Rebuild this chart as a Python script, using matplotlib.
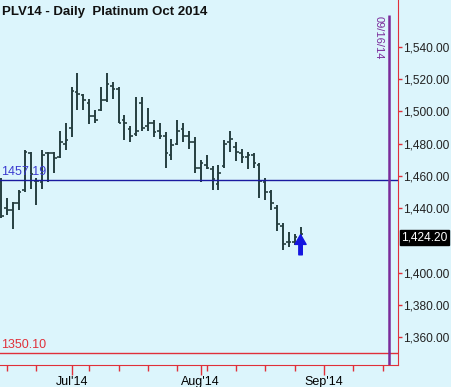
import numpy as np
import pandas as pd
import matplotlib
matplotlib.use('Agg')
import matplotlib.pyplot as plt
import matplotlib.transforms as mtransforms

# Daily OHLC for PLV14 (Jun 13 - Aug 26 2014)
opens = [1457, 1440, 1439, 1443, 1451, 1474, 1457, 1456, 1474, 1474, 1472, 1480,
         1490, 1512, 1510, 1505, 1497, 1501, 1507, 1516, 1514, 1495, 1489, 1486,
         1505, 1491, 1493, 1488, 1485, 1473, 1480, 1489, 1485, 1481, 1465, 1467,
         1464, 1455, 1466, 1481, 1478, 1474, 1472, 1473, 1467, 1456, 1450, 1440,
         1429, 1419, 1419, 1421]
highs = [1459, 1446, 1444, 1451, 1476, 1475, 1459, 1476, 1475, 1475, 1488, 1493,
         1515, 1524, 1511, 1508, 1501, 1515, 1524, 1518, 1515, 1498, 1491, 1509,
         1509, 1502, 1495, 1493, 1487, 1483, 1495, 1493, 1488, 1484, 1470, 1473,
         1466, 1467, 1482, 1488, 1481, 1477, 1475, 1474, 1468, 1459, 1451, 1442,
         1431, 1425, 1424, 1428]
lows = [1434, 1436, 1427, 1439, 1450, 1452, 1442, 1452, 1456, 1462, 1471, 1476,
        1484, 1501, 1501, 1492, 1493, 1500, 1506, 1508, 1493, 1482, 1481, 1485,
        1488, 1488, 1484, 1483, 1465, 1470, 1479, 1481, 1477, 1462, 1456, 1464,
        1451, 1451, 1465, 1475, 1469, 1468, 1464, 1465, 1446, 1445, 1439, 1426,
        1414, 1416, 1417, 1420]
closes = [1435, 1439, 1443, 1450, 1475, 1461, 1457, 1473, 1474, 1471, 1481, 1482,
          1513, 1511, 1507, 1497, 1495, 1507, 1517, 1514, 1493, 1493, 1485, 1488,
          1490, 1493, 1487, 1485, 1474, 1479, 1488, 1485, 1481, 1465, 1468, 1465,
          1458, 1462, 1480, 1483, 1475, 1472, 1473, 1468, 1457, 1450, 1443, 1430,
          1418, 1419, 1422, 1424.2]

# trading day slots (Jul 4 closed), running out to the 09/16/14 marker
dates = pd.bdate_range('2014-06-13', '2014-09-16').drop(pd.Timestamp('2014-07-04'))
month_labels = ["Jul'14", "Aug'14", "Sep'14"]
# 1,420 sits under the last price box, so it gets no label
yticks = [1360, 1380, 1400, 1440, 1460, 1480, 1500, 1520, 1540]

support = 1457.19
bottom_line = 1350.10
last_price = 1424.20
marker_date = '09/16/14'

BG = '#dcf5fc'
BAR = '#263f40'
RED = '#e0303a'

plt.rcParams['font.family'] = ['Liberation Sans', 'DejaVu Sans']

fig = plt.figure(figsize=(4.52, 3.87), dpi=100, facecolor=BG)
ax = fig.add_axes([0.0, 22/387, 398/452, 365/387], facecolor=BG)

x = np.arange(len(opens))
ax.vlines(x, lows, highs, color=BAR, lw=1.4)
ax.hlines(opens, x - 0.45, x, color=BAR, lw=1.2)
ax.hlines(closes, x, x + 0.45, color=BAR, lw=1.2)

# horizontal reference lines
ax.axhline(support, color='#1a1aa0', lw=1.0)
ax.text(0.0, support + 1.3, '%.2f' % support, color='#3a3ad0', fontsize=9,
        ha='left', va='bottom')
ax.hlines(bottom_line, -1, len(dates) + 0.6, color=RED, lw=1.0)
ax.text(0.0, bottom_line + 1.3, '%.2f' % bottom_line, color=RED, fontsize=9,
        ha='left', va='bottom')

# vertical date marker
mi = len(dates) - 1
ax.vlines(mi, 1300, 1560, color='#7a2a9a', lw=1.8)
ax.text(mi - 0.9, 1559, marker_date, rotation=270, color='#7a2a9a', fontsize=8,
        ha='right', va='top')

# blue arrow under last bar
ax.annotate('', xy=(len(opens) - 1, 1423.5), xytext=(len(opens) - 1, 1411.0),
            arrowprops=dict(facecolor='#1515e0', edgecolor='#1515e0', width=2.5,
                            headwidth=8, headlength=7))

# last price box on the axis
trans = mtransforms.blended_transform_factory(ax.transAxes, ax.transData)
ax.annotate('{:,.2f}'.format(last_price), xy=(1.0, last_price - 2.5), xycoords=trans,
            xytext=(2.2, 0), textcoords='offset points', color='white', fontsize=8.6,
            va='center', ha='left', annotation_clip=False,
            bbox=dict(boxstyle='square,pad=0.12', fc='black', ec='black'))

ax.set_xlim(-0.2, 67.6)
ax.set_ylim(1342.6, 1569.2)

# x ticks: month starts (major), mondays (minor)
major = [i for i in range(1, len(dates)) if dates[i].month != dates[i - 1].month]
minor = [i for i in range(len(dates) - 1)
         if dates[i].weekday() == 0 and dates[i + 1].month == dates[i].month]
ax.set_xticks(major)
ax.set_xticklabels(month_labels)
ax.set_xticks(minor, minor=True)
ax.tick_params(axis='x', which='major', colors=RED, length=7, width=1,
               labelcolor='black', labelsize=9, pad=1)
ax.tick_params(axis='x', which='minor', colors=RED, length=4, width=1)

ax.yaxis.tick_right()
ax.set_yticks(yticks)
ax.set_yticklabels(['{:,.2f}'.format(v) for v in yticks])
ax.tick_params(axis='y', colors=RED, length=3, width=1, labelcolor='#222222',
               labelsize=8.6, pad=0.5)

for s in ['top', 'left']:
    ax.spines[s].set_visible(False)
ax.spines['right'].set_color(RED)
ax.spines['bottom'].set_color(RED)

fig.text(2/452, 1 - 12/387, 'PLV14 - Daily  Platinum Oct 2014', fontsize=9.5,
         fontweight='bold', ha='left', va='center', color='#111111')

fig.savefig('out.png', dpi=100, facecolor=BG)
